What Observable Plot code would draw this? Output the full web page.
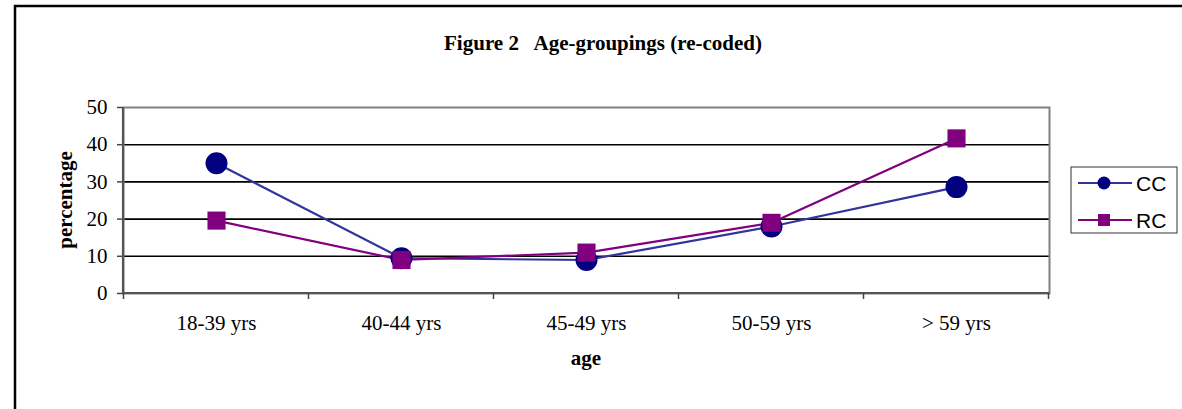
<!DOCTYPE html>
<html>
<head>
<meta charset="utf-8">
<script src="https://cdn.jsdelivr.net/npm/d3@7"></script>
<script src="https://cdn.jsdelivr.net/npm/@observablehq/plot@0.6"></script>
<style>
  html, body { margin: 0; padding: 0; background: #fff; }
  #chart svg { display: block; }
</style>
</head>
<body>
<div id="chart"></div>
<script>
// ---- data ----
const ageGroups = ["18-39 yrs", "40-44 yrs", "45-49 yrs", "50-59 yrs", "> 59 yrs"];
const ccValues = [35.0, 9.5, 9.0, 18.0, 28.6];
const rcValues = [19.6, 9.0, 11.0, 19.0, 41.7];
const yTicks = [0, 10, 20, 30, 40, 50];
const seriesNames = ["CC", "RC"];
const titleText = "Figure 2   Age-groupings (re-coded)";
const xLabel = "age";
const yLabel = "percentage";

const cc = ageGroups.map((g, i) => ({group: g, value: ccValues[i], series: "CC"}));
const rc = ageGroups.map((g, i) => ({group: g, value: rcValues[i], series: "RC"}));

const W = 1182, H = 409;
const mL = 123, mR = 133, mT = 107, mB = 116;
const serif = "'Liberation Serif', 'Times New Roman', serif";
const sans = "'Liberation Sans', Arial, sans-serif";
const FS = 21;

const plot = Plot.plot({
  width: W,
  height: H,
  marginLeft: mL,
  marginRight: mR,
  marginTop: mT,
  marginBottom: mB,
  style: {fontFamily: serif, fontSize: FS + "px", background: "#fff", color: "#000"},
  x: {type: "point", domain: ageGroups, padding: 0.5, axis: null},
  y: {domain: [0, 50], axis: null},
  marks: [
    // grid lines
    Plot.ruleY(yTicks.filter(d => d > 0 && d < 50), {stroke: "#000", strokeWidth: 1.6}),
    // plot area border
    Plot.frame({stroke: "#808080", strokeWidth: 2}),
    // y axis
    Plot.axisY({ticks: yTicks, tickSize: 6, tickPadding: 10, tickFormat: d => d, fontSize: FS, fontFamily: serif, stroke: "#444", strokeWidth: 1.5, fill: "#000", label: null}),
    // x labels
    Plot.axisX({tickSize: 0, tickPadding: 22, fontSize: FS, fontFamily: serif, fill: "#000", label: null}),
    // lines
    Plot.line(cc, {x: "group", y: "value", stroke: "#333399", strokeWidth: 2.2}),
    Plot.line(rc, {x: "group", y: "value", stroke: "#800080", strokeWidth: 2.2}),
    // markers
    Plot.dot(cc, {x: "group", y: "value", r: 11, fill: "#000080", stroke: "none"}),
    Plot.dot(rc, {x: "group", y: "value", symbol: "square", r: 10.2, fill: "#800080", stroke: "none"})
  ]
});

const xs = plot.scale("x");
const ys = plot.scale("y");
const svg = d3.select(plot);

// left and bottom axis lines (dark gray)
const x0 = xs.range[0], x1 = xs.range[1];
const y0 = ys.apply(0), yTop = ys.apply(50);
svg.append("line").attr("x1", x0).attr("x2", x0).attr("y1", yTop).attr("y2", y0)
  .attr("stroke", "#555").attr("stroke-width", 2.2);
svg.append("line").attr("x1", x0).attr("x2", x1).attr("y1", y0).attr("y2", y0)
  .attr("stroke", "#555").attr("stroke-width", 2.2);
// x tick marks at category boundaries
const step = xs.step;
const bounds = [xs.apply(ageGroups[0]) - step / 2].concat(ageGroups.map(g => xs.apply(g) + step / 2));
svg.append("g").selectAll("line").data(bounds).join("line")
  .attr("x1", d => d).attr("x2", d => d).attr("y1", y0).attr("y2", y0 + 6)
  .attr("stroke", "#444").attr("stroke-width", 1.5);

// title
svg.append("text").attr("x", 603).attr("y", 50).attr("text-anchor", "middle")
  .attr("font-family", serif).attr("font-weight", "bold").attr("font-size", FS)
  .text(titleText);
// x label
svg.append("text").attr("x", (x0 + x1) / 2).attr("y", 365).attr("text-anchor", "middle")
  .attr("font-family", serif).attr("font-weight", "bold").attr("font-size", FS)
  .text(xLabel);
// y label
svg.append("text").attr("transform", `translate(72,${(y0 + yTop) / 2}) rotate(-90)`)
  .attr("text-anchor", "middle")
  .attr("font-family", serif).attr("font-weight", "bold").attr("font-size", FS)
  .text(yLabel);

// legend
const lg = svg.append("g");
lg.append("rect").attr("x", 1071).attr("y", 167).attr("width", 106).attr("height", 66)
  .attr("fill", "#fff").attr("stroke", "#333").attr("stroke-width", 1);
const legendColors = {CC: ["#333399", "#000080"], RC: ["#800080", "#800080"]};
seriesNames.forEach((s, i) => {
  const cy = 183 + i * 37;
  lg.append("line").attr("x1", 1078).attr("x2", 1132).attr("y1", cy).attr("y2", cy)
    .attr("stroke", legendColors[s][0]).attr("stroke-width", 2.2);
  if (s === "CC") {
    lg.append("circle").attr("cx", 1104).attr("cy", cy).attr("r", 6.5).attr("fill", legendColors[s][1]);
  } else {
    lg.append("rect").attr("x", 1098).attr("y", cy - 6).attr("width", 12).attr("height", 12).attr("fill", legendColors[s][1]);
  }
  lg.append("text").attr("x", 1136).attr("y", cy).attr("dy", "0.36em").attr("text-anchor", "start")
    .attr("font-family", sans).attr("font-size", FS).text(s);
});

// outer chart border
svg.append("path").attr("d", `M15,${H + 5} L15,6 L${W + 5},6`)
  .attr("fill", "none").attr("stroke", "#000").attr("stroke-width", 2.5);

document.getElementById("chart").appendChild(plot);
</script>
</body>
</html>
